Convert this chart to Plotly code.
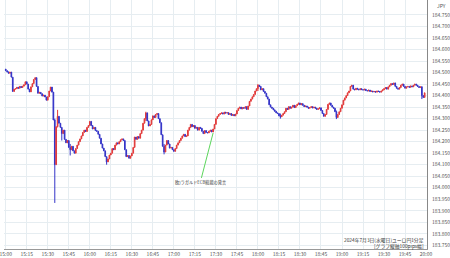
import plotly.graph_objects as go
import pandas as pd

start_time = "2024-07-03 15:00"
first_open = 184.515
closes = [
    184.508, 184.503, 184.497, 184.502, 184.480, 184.418, 184.428, 184.430, 184.436, 184.432,
    184.440, 184.435, 184.441, 184.447, 184.460, 184.450, 184.428, 184.416, 184.438, 184.452,
    184.470, 184.478, 184.440, 184.410, 184.414, 184.408, 184.398, 184.402, 184.394, 184.380,
    184.395, 184.420, 184.437, 184.415, 184.294, 184.100, 184.265, 184.310, 184.280, 184.262,
    184.235, 184.250, 184.210, 184.195, 184.205, 184.175, 184.165, 184.180, 184.160, 184.150,
    184.170, 184.185, 184.200, 184.212, 184.225, 184.240, 184.250, 184.244, 184.262, 184.270,
    184.288, 184.270, 184.255, 184.262, 184.248, 184.245, 184.232, 184.215, 184.190, 184.172,
    184.160, 184.135, 184.112, 184.125, 184.142, 184.150, 184.170, 184.165, 184.185, 184.195,
    184.190, 184.200, 184.208, 184.212, 184.205, 184.165, 184.135, 184.140, 184.128, 184.138,
    184.150, 184.175, 184.220, 184.210, 184.222, 184.215, 184.235, 184.250, 184.280, 184.300,
    184.325, 184.290, 184.268, 184.275, 184.295, 184.312, 184.305, 184.318, 184.322, 184.300,
    184.282, 184.230, 184.180, 184.155, 184.185, 184.205, 184.190, 184.172, 184.175, 184.165,
    184.158, 184.170, 184.185, 184.195, 184.205, 184.215, 184.225, 184.232, 184.222, 184.225,
    184.250, 184.262, 184.275, 184.265, 184.270, 184.258, 184.262, 184.250, 184.262, 184.258,
    184.245, 184.235, 184.248, 184.240, 184.238, 184.245, 184.250, 184.242, 184.255, 184.275,
    184.300, 184.310, 184.318, 184.322, 184.325, 184.320, 184.328, 184.324, 184.326, 184.318,
    184.322, 184.314, 184.318, 184.312, 184.320, 184.335, 184.345, 184.350, 184.342, 184.348,
    184.345, 184.352, 184.340, 184.355, 184.375, 184.385, 184.395, 184.405, 184.420, 184.430,
    184.445, 184.440, 184.425, 184.430, 184.418, 184.410, 184.395, 184.385, 184.360, 184.350,
    184.345, 184.338, 184.332, 184.325, 184.322, 184.312, 184.308, 184.315, 184.322, 184.330,
    184.345, 184.340, 184.352, 184.345, 184.350, 184.358, 184.348, 184.356, 184.362, 184.368,
    184.360, 184.365, 184.358, 184.352, 184.355, 184.350, 184.345, 184.348, 184.352, 184.346,
    184.350, 184.345, 184.340, 184.343, 184.347, 184.335, 184.322, 184.310, 184.318, 184.340,
    184.362, 184.368, 184.358, 184.350, 184.345, 184.330, 184.305, 184.318, 184.330, 184.345,
    184.360, 184.380, 184.390, 184.400, 184.412, 184.420, 184.440, 184.445, 184.428, 184.425,
    184.432, 184.428, 184.425, 184.430, 184.426, 184.424, 184.428, 184.422, 184.420, 184.424,
    184.418, 184.420, 184.416, 184.418, 184.415, 184.420, 184.418, 184.415, 184.420, 184.425,
    184.430, 184.435, 184.428, 184.438, 184.445, 184.452, 184.448, 184.455, 184.440, 184.432,
    184.428, 184.435, 184.445, 184.450, 184.440, 184.432, 184.438, 184.440, 184.436, 184.442,
    184.438, 184.445, 184.450, 184.445, 184.440, 184.435, 184.438, 184.400, 184.392, 184.412,
]
# notable wicks: minute index -> (high, low)
wicks = {
    35: (184.300, 183.934),
    37: (184.338, 184.262),
    40: (184.262, 184.205),
    46: (184.190, 184.140),
    72: (184.130, 184.100),
    100: (184.330, 184.290),
    113: (184.190, 184.145),
    180: (184.450, 184.420),
    196: (184.322, 184.300),
    236: (184.335, 184.298),
    297: (184.440, 184.385),
}
y_ticks = [round(183.75 + 0.05 * i, 3) for i in range(21)]
note_text = "欧)ラガルドECB総裁の発言"
note_minute = 148
title_line1 = "2024年7月3日(水曜日)ユーロ円1分足"
title_line2 = "[グラフ縦軸100pips幅]"

times = pd.date_range(start_time, periods=len(closes), freq="min")
opens = [first_open] + closes[:-1]
highs = [max(o, c) for o, c in zip(opens, closes)]
lows = [min(o, c) for o, c in zip(opens, closes)]
for i, (h, l) in wicks.items():
    highs[i] = max(highs[i], h)
    lows[i] = min(lows[i], l)

RED = "#e23b3b"
BLUE = "#3434c8"

fig = go.Figure(go.Candlestick(
    x=times, open=opens, high=highs, low=lows, close=closes,
    increasing=dict(line=dict(color=RED, width=1), fillcolor=RED),
    decreasing=dict(line=dict(color=BLUE, width=1), fillcolor=BLUE),
    whiskerwidth=0,
    showlegend=False,
    hoverinfo="skip",
))

grid = "#e6edf1"
fig.update_layout(
    width=450, height=258,
    margin=dict(l=0, r=21, t=0, b=9),
    paper_bgcolor="white", plot_bgcolor="white",
    font=dict(family="Noto Sans CJK JP, Noto Sans, sans-serif", color="#555"),
    xaxis=dict(
        type="date",
        range=["2024-07-03 14:58:45", "2024-07-03 20:00:40"],
        rangeslider=dict(visible=False),
        tickformat="%H:%M", dtick=15 * 60 * 1000,
        tick0="2024-07-03 15:00",
        showgrid=True, gridcolor=grid, gridwidth=1,
        showline=True, linecolor="#999", linewidth=1,
        ticks="", tickfont=dict(size=5, color="#555"),
        ticklabeloverflow="allow",
        zeroline=False,
    ),
    yaxis=dict(
        side="right",
        range=[183.734, 184.815],
        tickvals=y_ticks,
        ticktext=[f"{v:.3f}" for v in y_ticks],
        showgrid=True, gridcolor=grid, gridwidth=1,
        showline=True, linecolor="#888", linewidth=1,
        ticks="", ticklabelstandoff=3,
        tickfont=dict(size=5, color="#555"),
        zeroline=False,
    ),
)

fig.add_annotation(
    x=times[note_minute], y=184.238, xref="x", yref="y",
    text=note_text, showarrow=True, arrowhead=0, arrowwidth=1,
    arrowcolor="#5cd65c", ax=-13, ay=50, standoff=0,
    font=dict(size=4.2, color="#333"),
)
fig.add_annotation(
    x=0.998, y=0.035, xref="paper", yref="paper",
    text=title_line1, showarrow=False, xanchor="right", yanchor="middle",
    font=dict(size=4.8, color="#333"),
)
fig.add_annotation(
    x=0.998, y=0.013, xref="paper", yref="paper",
    text=title_line2, showarrow=False, xanchor="right", yanchor="middle",
    font=dict(size=4.8, color="#333"),
)
fig.add_annotation(
    x=1.02, y=0.976, xref="paper", yref="paper",
    text="JPY", showarrow=False, xanchor="left", yanchor="middle",
    font=dict(size=5, color="#555"),
)

fig.write_html("out.html")
